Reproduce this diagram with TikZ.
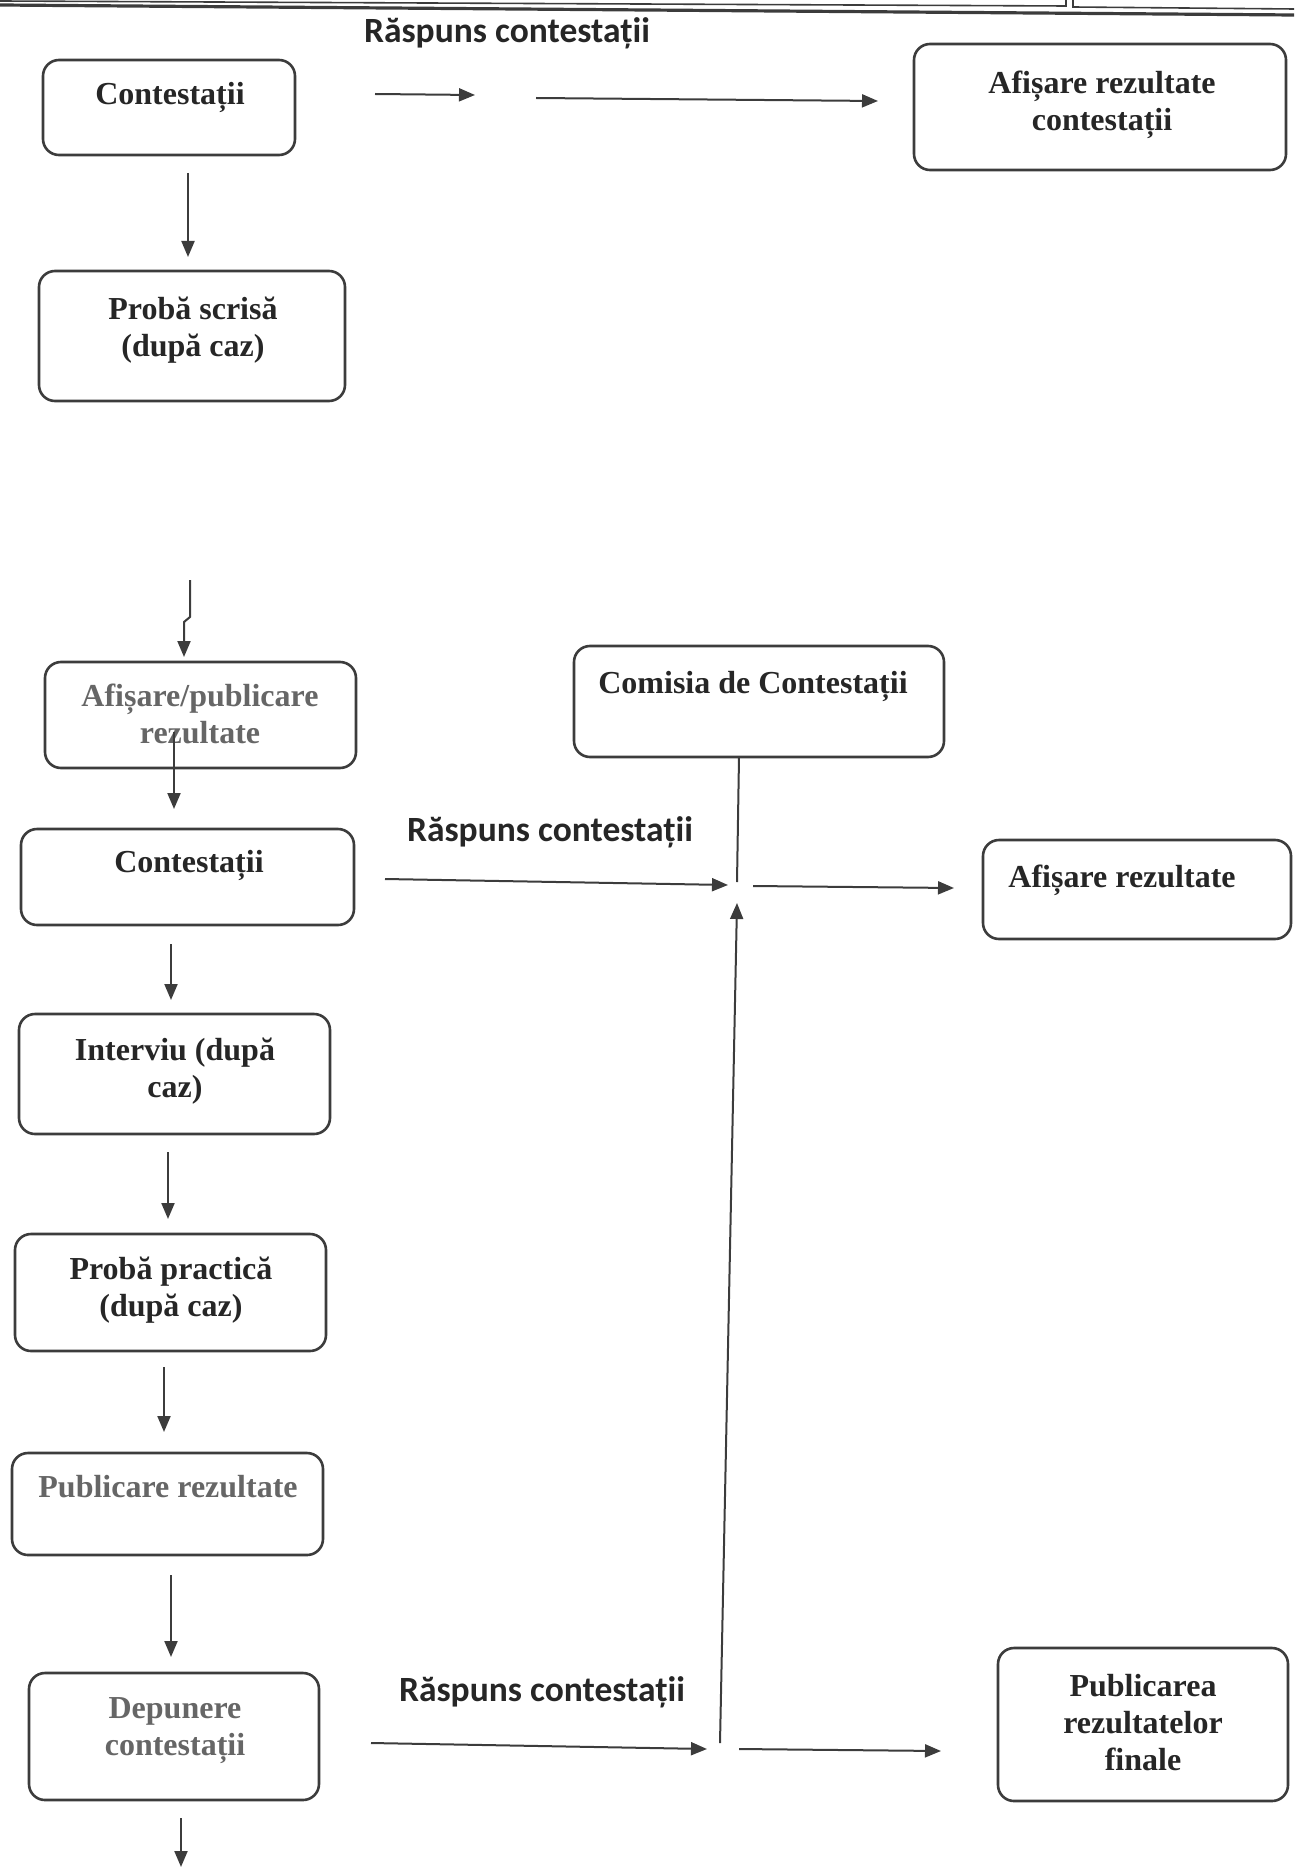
\documentclass[tikz,border=0pt]{standalone}
\usepackage{fontspec}
\setmainfont{Liberation Serif}
\newfontfamily\lblfont{Carlito}
\usetikzlibrary{arrows.meta}
\definecolor{ink}{HTML}{262626}
\definecolor{graytxt}{HTML}{666666}
\definecolor{edge}{HTML}{3C3C3C}
\begin{document}
\begin{tikzpicture}[x=1pt,y=-1pt,
 boxshape/.style={draw=edge, line width=2.6pt, rounded corners=16pt, inner sep=0pt},
 btext/.style={font=\fontsize{32}{37}\selectfont\bfseries, text=ink, align=center, inner sep=0pt},
 gtext/.style={btext, text=graytxt},
 lbl/.style={font=\lblfont\fontsize{35.5}{40}\selectfont\bfseries, text=ink, inner sep=0pt},
 arr/.style={draw=edge, line width=2pt, -{Triangle[length=16pt,width=13pt]}},
 ln/.style={draw=edge, line width=2pt},
 scanline/.style={draw=edge, line width=1.6pt}]
\useasboundingbox (0,0) rectangle (1294,1867);
% scanned edge at the top
\draw[scanline] (0,1) -- (1066,6) -- (1066,0);
\draw[scanline] (1073,0) -- (1073,7) -- (1294,9);
\draw[edge, line width=3.2pt] (0,5) -- (1294,15);
% boxes
\node[boxshape, minimum width=252pt, minimum height=95pt] (c1) at (169,107.5) {};
\node[boxshape, minimum width=372pt, minimum height=126pt] (a1) at (1100,107) {};
\node[boxshape, minimum width=306pt, minimum height=130pt] (p1) at (192,336) {};
\node[boxshape, minimum width=311pt, minimum height=106pt] (ap) at (200.5,715) {};
\node[boxshape, minimum width=370pt, minimum height=111pt] (cc) at (759,701.5) {};
\node[boxshape, minimum width=333pt, minimum height=96pt] (c2) at (187.5,877) {};
\node[boxshape, minimum width=308pt, minimum height=99pt] (ar) at (1137,889.5) {};
\node[boxshape, minimum width=311pt, minimum height=120pt] (iv) at (174.5,1074) {};
\node[boxshape, minimum width=311pt, minimum height=117pt] (pp) at (170.5,1292.5) {};
\node[boxshape, minimum width=311pt, minimum height=102pt] (pr) at (167.5,1504) {};
\node[boxshape, minimum width=290pt, minimum height=127pt] (dc) at (174,1736.5) {};
\node[boxshape, minimum width=290pt, minimum height=153pt] (pf) at (1143,1724.5) {};
% box texts
\node[btext] (c1t) at (170,97) {Contestații};
\node[btext] (a1t) at (1102,105) {Afișare rezultate\\contestații};
\node[btext] (p1t) at (193,330) {Probă scrisă\\(după caz)};
\node[gtext] (apt) at (200,713.5) {Afișare/publicare\\rezultate};
\node[btext] (cct) at (753,686) {Comisia de Contestații};
\node[btext] (c2t) at (189,865) {Contestații};
\node[btext] (art) at (1122,880) {Afișare rezultate};
\node[btext] (ivt) at (175,1071) {Interviu (după\\caz)};
\node[btext] (ppt) at (171,1290) {Probă practică\\(după caz)};
\node[gtext] (prt) at (168,1487) {Publicare rezultate};
\node[gtext] (dct) at (175,1731) {Depunere\\contestații};
\node[btext] (pft) at (1143,1722.5) {Publicarea\\rezultatelor\\finale};
% labels
\node[lbl] (l1) at (507,33) {Răspuns contestații};
\node[lbl] (l2) at (550,832) {Răspuns contestații};
\node[lbl] (l3) at (542,1692) {Răspuns contestații};
% connector end points
\coordinate (t1s) at (375,94);   \coordinate (t1e) at (475,95);
\coordinate (t2s) at (536,98);   \coordinate (t2e) at (878,101);
\coordinate (d1s) at (188,173);  \coordinate (d1e) at (188,257);
\coordinate (d2s) at (190,580);  \coordinate (d2a) at (190,617);
\coordinate (d2b) at (184,622);  \coordinate (d2e) at (184,657);
\coordinate (d3s) at (174,732);  \coordinate (d3e) at (174,809);
\coordinate (d4s) at (171,944);  \coordinate (d4e) at (171,1000);
\coordinate (d5s) at (168,1152); \coordinate (d5e) at (168,1219);
\coordinate (d6s) at (164,1367); \coordinate (d6e) at (164,1432);
\coordinate (d7s) at (171,1575); \coordinate (d7e) at (171,1657);
\coordinate (d8s) at (181,1818); \coordinate (d8e) at (181,1867);
\coordinate (h1s) at (385,879);  \coordinate (h1e) at (728,885);
\coordinate (h2s) at (753,886);  \coordinate (h2e) at (954,888);
\coordinate (ccb) at (739,757);  \coordinate (ccj) at (737,882);
\coordinate (ups) at (720,1743); \coordinate (upe) at (737,903);
\coordinate (h3s) at (371,1743); \coordinate (h3e) at (707,1749);
\coordinate (h4s) at (739,1749); \coordinate (h4e) at (941,1751);
% connectors
\draw[arr] (t1s) -- (t1e);
\draw[arr] (t2s) -- (t2e);
\draw[arr] (d1s) -- (d1e);
\draw[arr] (d2s) -- (d2a) -- (d2b) -- (d2e);
\draw[arr] (d3s) -- (d3e);
\draw[arr] (d4s) -- (d4e);
\draw[arr] (d5s) -- (d5e);
\draw[arr] (d6s) -- (d6e);
\draw[arr] (d7s) -- (d7e);
\draw[arr] (d8s) -- (d8e);
\draw[arr] (h1s) -- (h1e);
\draw[arr] (h2s) -- (h2e);
\draw[ln] (ccb) -- (ccj);
\draw[arr] (ups) -- (upe);
\draw[arr] (h3s) -- (h3e);
\draw[arr] (h4s) -- (h4e);
\end{tikzpicture}
\end{document}
